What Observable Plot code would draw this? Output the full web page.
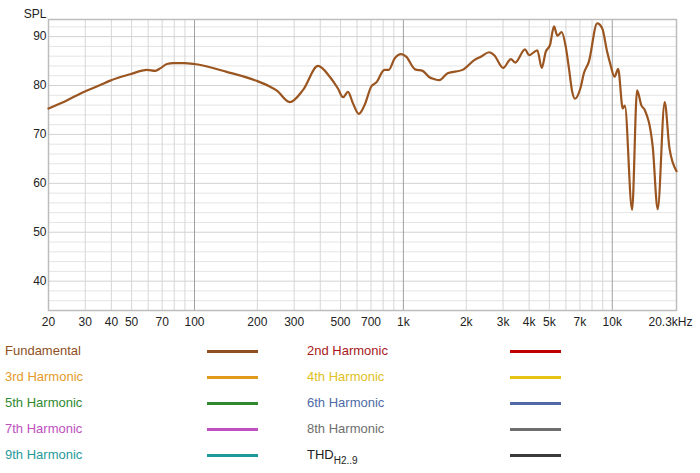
<!DOCTYPE html>
<html>
<head>
<meta charset="utf-8">
<script src="https://cdn.jsdelivr.net/npm/d3@7"></script>
<script src="https://cdn.jsdelivr.net/npm/@observablehq/plot@0.6"></script>
<style>
  body { margin: 0; background: #fff; font-family: "Liberation Sans", Arial, Helvetica, sans-serif; }
  #chart svg { display: block; }
  #legend { position: relative; width: 700px; height: 135px; font-size: 13px; }
  .lt { position: absolute; line-height: 26px; height: 26px; white-space: nowrap; }
  .ll { position: absolute; height: 2.5px; width: 51px; }
  sub { font-size: 10px; vertical-align: -5px; line-height: 0; }
</style>
</head>
<body>
<div id="chart"></div>
<div id="legend"></div>
<script>
// Frequency response (Hz) and SPL (dB) of the fundamental
const freqs = [20, 24.6, 29.5, 35.4, 39.5, 49.2, 59.2, 64.9, 68.5, 73.7, 79.3, 89.3, 100, 142.6, 200, 229, 247, 286, 331, 390, 444, 486, 514, 543, 573, 612, 652, 702, 741, 812, 851, 907, 976, 1031, 1138, 1237, 1332, 1408, 1486, 1628, 1919, 2184, 2350, 2576, 2722, 3004, 3270, 3428, 3824, 3996, 4378, 4596, 4802, 5036, 5260, 5456, 5726, 5984, 6203, 6433, 6628, 7054, 7314, 7728, 8468, 8946, 9452, 9812, 10254, 10666, 11232, 11482, 12442, 13146, 13798, 14306, 15618, 16500, 17824, 18768, 20300];
const spl   = [75.3, 77.0, 78.7, 80.1, 81.0, 82.3, 83.2, 83.0, 83.5, 84.4, 84.6, 84.6, 84.4, 82.8, 80.9, 79.8, 79.0, 76.6, 79.1, 84.0, 81.8, 79.4, 77.6, 78.7, 76.4, 74.2, 76.0, 79.8, 80.6, 83.2, 83.2, 85.5, 86.4, 85.9, 83.3, 83.0, 81.7, 81.3, 81.1, 82.5, 83.2, 85.2, 85.9, 86.8, 86.2, 83.6, 85.4, 84.7, 87.4, 86.2, 87.2, 83.6, 86.9, 88.3, 92.1, 90.2, 90.9, 88.0, 83.5, 78.7, 77.3, 79.6, 82.5, 84.9, 92.7, 91.7, 86.9, 84.2, 81.8, 83.4, 75.3, 75.9, 54.6, 79.0, 75.9, 75.0, 67.5, 54.7, 76.6, 67.3, 62.5];

const xTickValues = [20, 30, 40, 50, 70, 100, 200, 300, 500, 700, 1000, 2000, 3000, 4000, 5000, 7000, 10000];
const xTickLabels = ["20", "30", "40", "50", "70", "100", "200", "300", "500", "700", "1k", "2k", "3k", "4k", "5k", "7k", "10k"];
const xEndTick = [20300];
const xEndLabel = ["20.3kHz"];
const yTickValues = [40, 50, 60, 70, 80, 90];

const legendNames = ["Fundamental", "2nd Harmonic", "3rd Harmonic", "4th Harmonic", "5th Harmonic", "6th Harmonic", "7th Harmonic", "8th Harmonic", "9th Harmonic", "THD"];
const legendText  = ["#8e4f22", "#a81818", "#e39a2a", "#e0c024", "#2f8a2f", "#4f6aa6", "#c04fc0", "#6e6e6e", "#1f9a9a", "#222222"];
const legendLine  = ["#8e4f22", "#c00000", "#e09a1c", "#e6c414", "#2f8a2f", "#4f6aa6", "#c04fc0", "#6e6e6e", "#1a9a9a", "#3a3a3a"];

const data = freqs.map((f, i) => ({f, db: spl[i]}));

// grid positions
const decadeLines = [100, 1000, 10000];
const minorX = [];
[10, 100, 1000, 10000].forEach(d => { for (let k = 2; k <= 9; k++) { const v = d * k; if (v > 20 && v < 20000) minorX.push(v); } });
const minorY = d3.range(36, 93, 2).filter(v => v % 10 !== 0);

const chart = Plot.plot({
  width: 700,
  height: 338,
  marginLeft: 48,
  marginRight: 24,
  marginTop: 19,
  marginBottom: 28,
  style: {fontFamily: "'Liberation Sans', Arial, Helvetica, sans-serif", fontSize: "12px", color: "#222", background: "#fff"},
  x: {type: "log", domain: [20, 20300], axis: null},
  y: {domain: [34, 93.5], axis: null},
  marks: [
    Plot.ruleY(minorY, {stroke: "#e4e4e4", strokeWidth: 1}),
    Plot.ruleY(yTickValues, {stroke: "#d2d2d2", strokeWidth: 1}),
    Plot.ruleX(minorX, {stroke: "#d6d6d6", strokeWidth: 1}),
    Plot.ruleX(decadeLines, {stroke: "#a0a0a0", strokeWidth: 1}),
    Plot.frame({stroke: "#bdbdbd", strokeWidth: 1.5}),
    Plot.line(data, {x: "f", y: "db", stroke: "#9a5520", strokeWidth: 2.2, curve: "monotone-x"}),
    Plot.text(xTickValues, {x: d => d, text: (d, i) => xTickLabels[i], frameAnchor: "bottom", dy: 15, fontSize: 12, fill: "#222"}),
    Plot.text(xEndTick, {x: d => d, text: (d, i) => xEndLabel[i], frameAnchor: "bottom", dy: 15, dx: -6, fontSize: 12, fill: "#222"}),
    Plot.text(yTickValues, {y: d => d, text: d => String(d), frameAnchor: "left", textAnchor: "end", dx: -2, fontSize: 12, fill: "#222"}),
    Plot.text(["SPL"], {frameAnchor: "top-left", textAnchor: "end", dx: -2, dy: -10, fontSize: 12, fill: "#222"})
  ]
});
document.getElementById("chart").appendChild(chart);

// legend (two columns, five rows)
const legend = document.getElementById("legend");
legendNames.forEach((name, i) => {
  const col = i % 2, row = Math.floor(i / 2);
  const t = document.createElement("div");
  t.className = "lt";
  t.style.left = (col === 0 ? 5 : 307) + "px";
  t.style.top = (row * 26) + "px";
  t.style.color = legendText[i];
  if (name === "THD") t.innerHTML = "THD<sub>H2..9</sub>"; else t.textContent = name;
  legend.appendChild(t);
  const l = document.createElement("div");
  l.className = "ll";
  l.style.left = (col === 0 ? 207 : 510) + "px";
  l.style.top = (row * 26 + 12) + "px";
  l.style.background = legendLine[i];
  legend.appendChild(l);
});
</script>
</body>
</html>
